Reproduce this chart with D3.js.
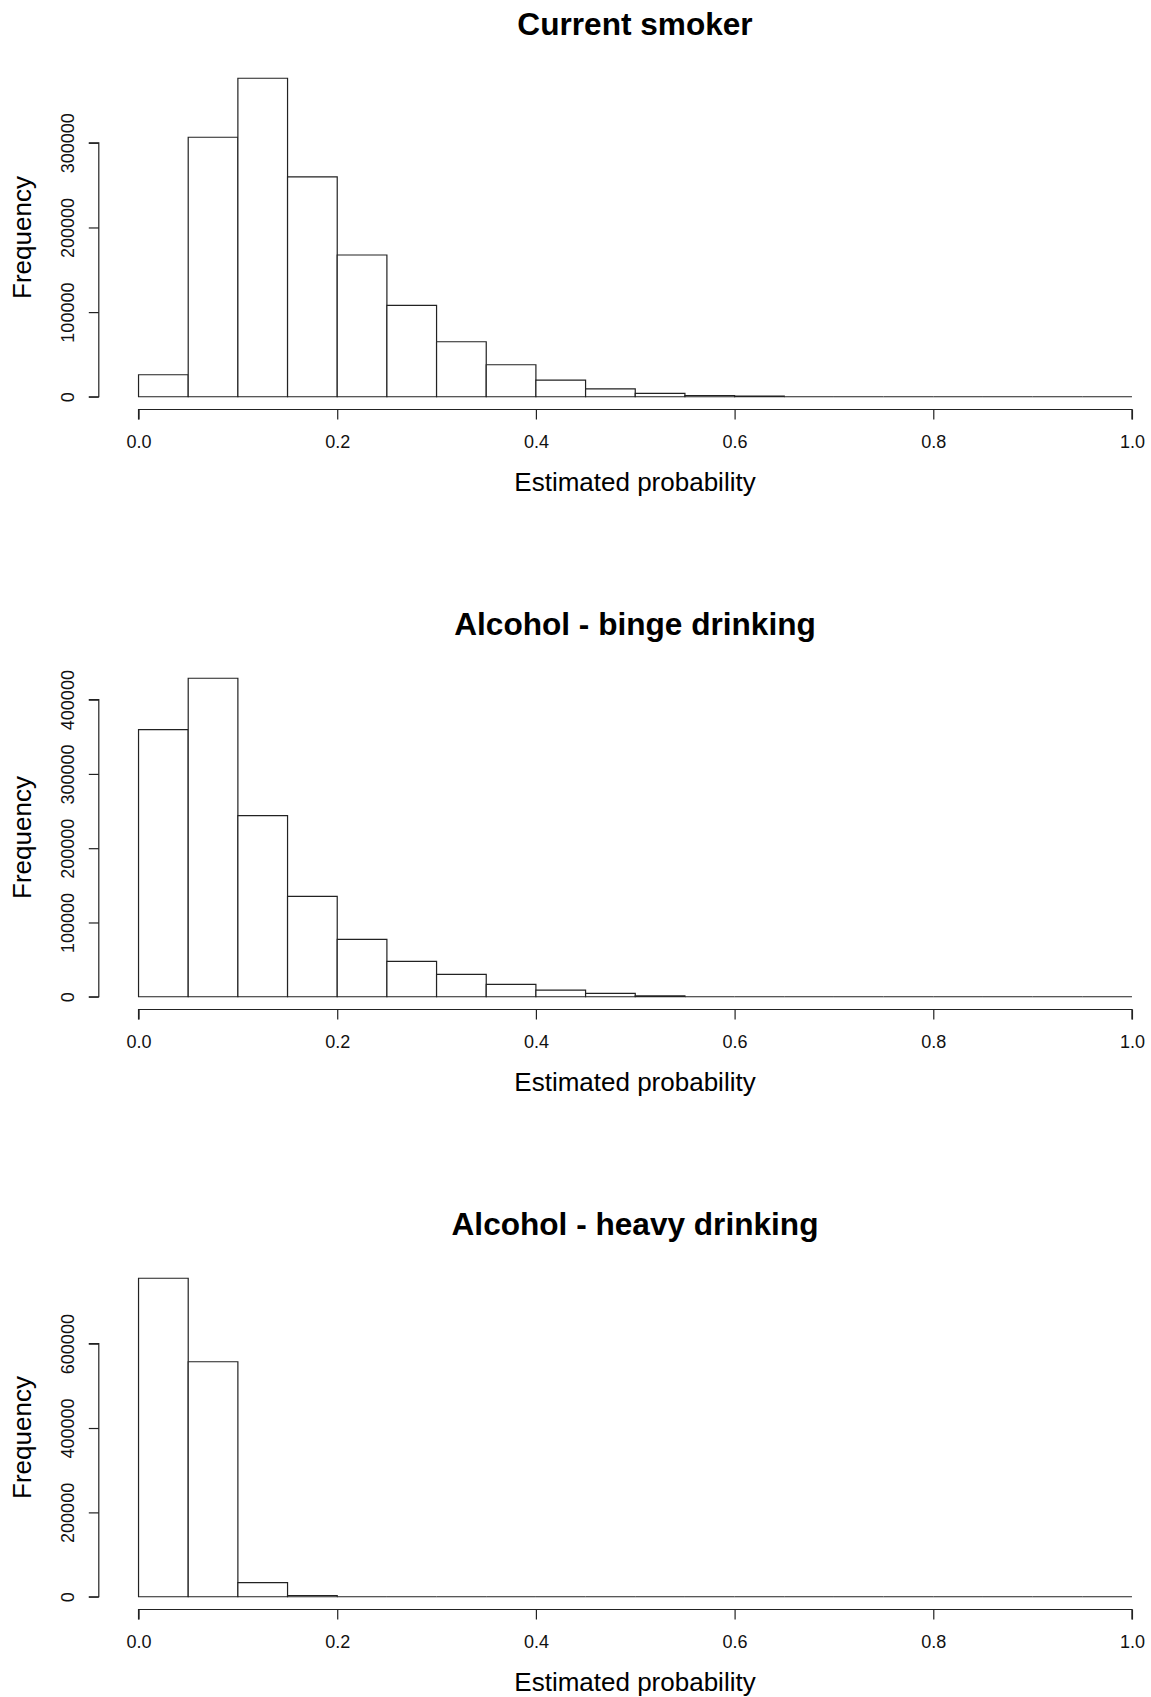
<!DOCTYPE html>
<html>
<head>
<meta charset="utf-8">
<script src="https://cdn.jsdelivr.net/npm/d3@7"></script>
<style>
  html, body { margin: 0; padding: 0; background: #fff; }
  svg { display: block; font-family: "Liberation Sans", Arial, sans-serif; }
</style>
</head>
<body>
<svg id="chart" width="1151" height="1697"></svg>
<script>
// ---- data ----
const titles = ["Current smoker", "Alcohol - binge drinking", "Alcohol - heavy drinking"];
const binWidth = 0.05;
const binStarts = d3.range(20).map(i => +(i * binWidth).toFixed(2));
const smokerCounts = [26000, 306600, 376300, 259700, 167500, 108000, 65000, 37800, 19600, 9200, 4000, 1500, 800, 0, 0, 0, 0, 0, 0, 0];
const bingeCounts  = [359600, 428800, 243800, 135200, 77300, 47700, 30200, 16700, 9000, 4500, 1300, 0, 0, 0, 0, 0, 0, 0, 0, 0];
const heavyCounts  = [755000, 557000, 33300, 3000, 0, 0, 0, 0, 0, 0, 0, 0, 0, 0, 0, 0, 0, 0, 0, 0];
const xTicks = [0, 0.2, 0.4, 0.6, 0.8, 1.0];
const yTicksSmoker = [0, 100000, 200000, 300000];
const yTicksBinge  = [0, 100000, 200000, 300000, 400000];
const yTicksHeavy  = [0, 200000, 400000, 600000];
const xLabel = "Estimated probability";
const yLabel = "Frequency";

const panels = [
  { title: titles[0], counts: smokerCounts, yTicks: yTicksSmoker },
  { title: titles[1], counts: bingeCounts,  yTicks: yTicksBinge },
  { title: titles[2], counts: heavyCounts,  yTicks: yTicksHeavy }
];

// ---- layout ----
const svg = d3.select("#chart");
const panelStep = 600;
const plotLeft = 98.8, plotRight = 1171.7;
const plotHeight = 344;
const firstPlotBottom = 409.5;
const stroke = "#222";

const x = d3.scaleLinear().domain([-0.04, 1.04]).range([plotLeft, plotRight]);

panels.forEach((p, i) => {
  const bottom = firstPlotBottom + i * panelStep;
  const top = bottom - plotHeight;
  const maxC = d3.max(p.counts);
  const y = d3.scaleLinear().domain([-0.04 * maxC, 1.04 * maxC]).range([bottom, top]);
  const g = svg.append("g");

  // bars (drawn as outlines so that empty bins appear as lines on the baseline)
  g.selectAll("path.bar")
    .data(p.counts.map((c, k) => ({ x0: binStarts[k], x1: binStarts[k] + binWidth, c })))
    .join("path")
    .attr("class", "bar")
    .attr("d", d => `M${x(d.x0)},${y(0)}V${y(d.c)}H${x(d.x1)}V${y(0)}Z`)
    .attr("fill", "#fff")
    .attr("stroke", stroke)
    .attr("stroke-width", 1.2);

  // x axis
  const xAxis = d3.axisBottom(x).tickValues(xTicks).tickSize(10).tickPadding(5)
    .tickFormat(d3.format(".1f"));
  const gx = g.append("g").attr("transform", `translate(0,${bottom})`).call(xAxis);
  gx.select(".domain").attr("d", `M${x(0)},10V0H${x(1)}V10`).attr("stroke", stroke).attr("stroke-width", 1.2);
  gx.selectAll(".tick line").attr("stroke", stroke).attr("stroke-width", 1.2);
  gx.selectAll(".tick text").attr("font-size", 18).attr("fill", "#111")
    .attr("font-family", "Liberation Sans, Arial, sans-serif")
    .attr("dy", null).attr("y", 38.5);

  // y axis
  const yt = p.yTicks;
  const yAxis = d3.axisLeft(y).tickValues(yt).tickSize(10).tickFormat(d3.format("d"));
  const gy = g.append("g").attr("transform", `translate(${plotLeft},0)`).call(yAxis);
  gy.select(".domain").attr("d", `M-10,${y(yt[0])}H0V${y(yt[yt.length - 1])}H-10`)
    .attr("stroke", stroke).attr("stroke-width", 1.2);
  gy.selectAll(".tick line").attr("stroke", stroke).attr("stroke-width", 1.2);
  gy.selectAll(".tick text")
    .attr("font-size", 18).attr("fill", "#111")
    .attr("font-family", "Liberation Sans, Arial, sans-serif")
    .attr("x", null).attr("dy", null)
    .attr("text-anchor", "middle")
    .attr("transform", "translate(-25,0) rotate(-90)");

  // title
  g.append("text")
    .attr("x", 635).attr("y", 35 + i * panelStep)
    .attr("text-anchor", "middle")
    .attr("font-size", 31.6).attr("font-weight", "bold").attr("fill", "#000")
    .text(p.title);

  // x label
  g.append("text")
    .attr("x", 635).attr("y", 491 + i * panelStep)
    .attr("text-anchor", "middle")
    .attr("font-size", 26).attr("fill", "#000")
    .text(xLabel);

  // y label
  g.append("text")
    .attr("transform", `translate(31,${(top + bottom) / 2}) rotate(-90)`)
    .attr("text-anchor", "middle")
    .attr("font-size", 26).attr("fill", "#000")
    .text(yLabel);
});
</script>
</body>
</html>
